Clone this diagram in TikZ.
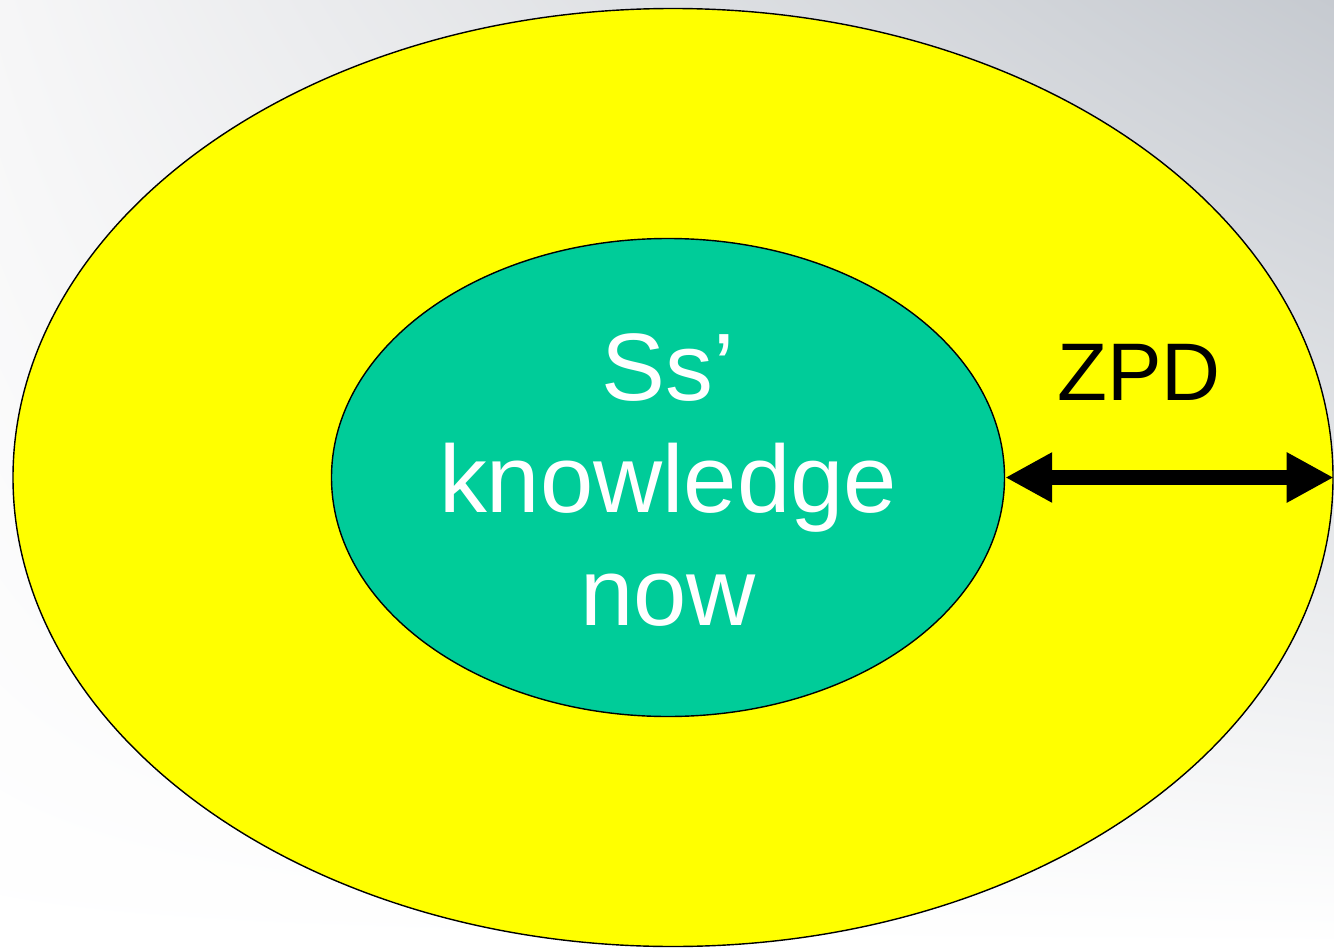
\documentclass[tikz,border=0pt]{standalone}
\usepackage{fontspec}
\setmainfont{Liberation Sans}
\usetikzlibrary{shapes.geometric,arrows.meta,shadings}
\definecolor{myYellow}{HTML}{ffff00}
\definecolor{myGreen}{HTML}{00cc99}
\definecolor{myGrey}{HTML}{c6cad0}
\definecolor{myPale}{HTML}{f6f6f7}

\begin{document}
\begin{tikzpicture}[>={Triangle[length=0.94cm,width=0.94cm]}, line width=0.8pt]
  \tikzstyle{O}=[ellipse,draw=black,fill=myYellow,inner sep=0pt,minimum width=26.4cm,minimum height=18.76cm]
  \tikzstyle{I}=[ellipse,draw=black,fill=myGreen,inner sep=0pt,minimum width=13.46cm,minimum height=9.56cm]
  \tikzstyle{T}=[text=white,align=center,font=\fontsize{54.5}{64}\selectfont]
  \tikzstyle{Z}=[text=black,font=\fontsize{46.5}{52}\selectfont]

  \shade[upper left=myPale, upper right=myGrey, lower left=white, lower right=white] (0,0) rectangle (26.68,-18.94);
  \useasboundingbox (0,0) rectangle (26.68,-18.94);

  \node[O] at (13.46,-9.55) (zone) {};
  \node[I] at (13.36,-9.55) (now) {};
  \node[T] at (13.36,-9.6) (knows) {Ss’\\knowledge\\now};
  \node[Z] at (22.78,-7.44) (zpd) {ZPD};

  \draw[<->, line width=9pt] (now.east) -- (zone.east);
\end{tikzpicture}
\end{document}
